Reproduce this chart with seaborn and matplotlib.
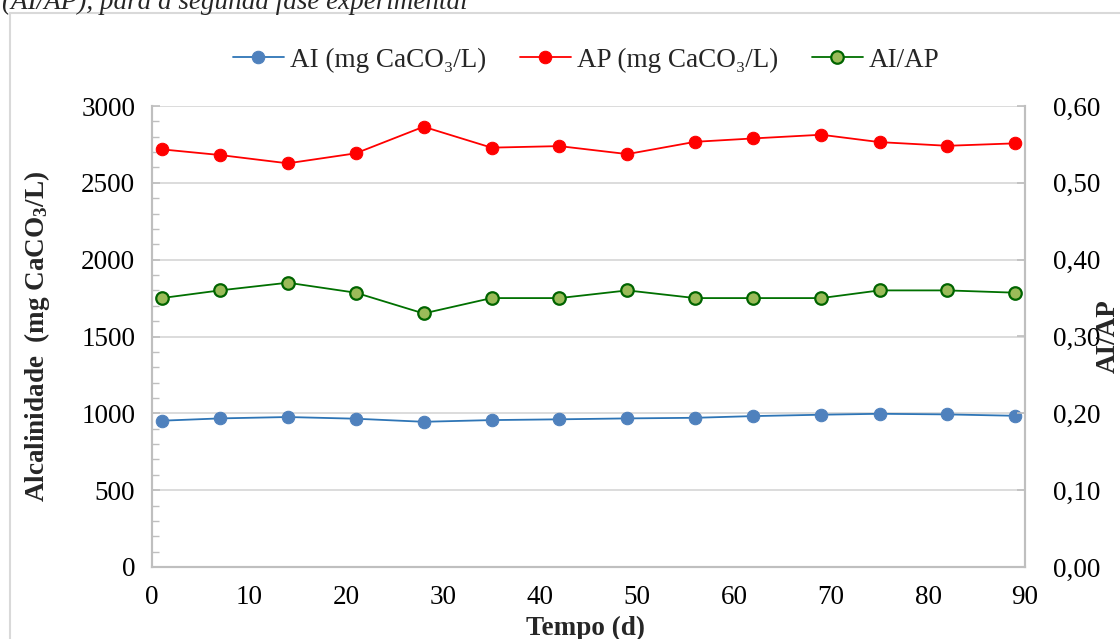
import matplotlib
matplotlib.use("Agg")
import matplotlib.pyplot as plt
import matplotlib.patches as mpatches
from matplotlib.ticker import MultipleLocator, FuncFormatter
import seaborn as sns
import pandas as pd

# Sampling days (second experimental phase)
dias = [1, 7, 14, 21, 28, 35, 42, 49, 56, 62, 69, 75, 82, 89]
# Intermediate alkalinity (mg CaCO3/L)
ai = [952, 967, 976, 965, 945, 956, 961, 967, 971, 982, 991, 997, 993, 984]
# Partial alkalinity (mg CaCO3/L)
ap = [2718, 2681, 2627, 2692, 2865, 2729, 2739, 2687, 2767, 2789, 2813, 2765, 2741, 2757]
# AI/AP ratio
ai_ap = [0.35, 0.36, 0.37, 0.357, 0.33, 0.35, 0.35, 0.36, 0.35, 0.35, 0.35, 0.36, 0.36, 0.357]

df = pd.DataFrame({"dia": dias, "AI": ai, "AP": ap, "AI/AP": ai_ap})

sns.set_theme(style="white")
plt.rcParams["font.family"] = ["Liberation Serif", "DejaVu Serif"]
plt.rcParams["mathtext.fontset"] = "custom"
plt.rcParams["mathtext.rm"] = "Liberation Serif"
plt.rcParams["mathtext.bf"] = "Liberation Serif:bold"
plt.rcParams["mathtext.default"] = "regular"

W, H = 1120, 639
fig = plt.figure(figsize=(W / 100, H / 100), dpi=100)
ax = fig.add_axes([152 / W, 1 - 567 / H, (1025 - 152) / W, (567 - 106) / H])
ax2 = ax.twinx()

grid_c = "#d9d9d9"
spine_c = "#bfbfbf"
fs = 19.5

sns.lineplot(data=df, x="dia", y="AI", ax=ax, color="#2e75b6", lw=1.3,
             marker="o", markersize=9, markerfacecolor="#4f81bd",
             markeredgecolor="#4f81bd", label="AI (mg CaCO\u2083/L)", legend=False)
sns.lineplot(data=df, x="dia", y="AP", ax=ax, color="#ff0000", lw=1.3,
             marker="o", markersize=9, markerfacecolor="#ff0000",
             markeredgecolor="#ff0000", label="AP (mg CaCO\u2083/L)", legend=False)
sns.lineplot(data=df, x="dia", y="AI/AP", ax=ax2, color="#007000", lw=1.3,
             marker="o", markersize=9, markerfacecolor="#9bbb59",
             markeredgecolor="#006400", markeredgewidth=1.6,
             label="AI/AP", legend=False)

ax.set_xlim(0, 90)
ax.set_ylim(0, 3000)
ax2.set_ylim(0, 0.6)

ax.xaxis.set_major_locator(MultipleLocator(10))
ax.xaxis.set_minor_locator(MultipleLocator(5))
ax.yaxis.set_major_locator(MultipleLocator(500))
ax.yaxis.set_minor_locator(MultipleLocator(100))
ax2.yaxis.set_major_locator(MultipleLocator(0.1))
ax2.yaxis.set_major_formatter(FuncFormatter(lambda v, p: f"{v:.2f}".replace(".", ",")))

ax.grid(axis="y", which="major", color=grid_c, lw=1.3)
ax.set_axisbelow(True)

for a in (ax, ax2):
    for side in ("left", "right", "bottom"):
        a.spines[side].set_visible(True)
        a.spines[side].set_color(spine_c)
        a.spines[side].set_linewidth(1.5)
    a.spines["top"].set_visible(False)

ax.tick_params(axis="both", which="both", direction="in", color=spine_c,
               labelsize=fs, labelcolor="black")
ax.tick_params(axis="x", which="both", length=6, width=1.2, pad=13)
ax.tick_params(axis="y", which="major", length=6, width=1.2, pad=12)
ax.tick_params(axis="y", which="minor", length=5, width=1.0)
ax2.tick_params(axis="y", which="major", direction="in", length=6, width=1.2,
                color=spine_c, labelsize=fs, labelcolor="black", pad=20)
ax2.grid(False)

ax.set_xlabel("Tempo (d)", fontsize=fs, fontweight="bold")
ax.set_ylabel("Alcalinidade  (mg CaCO$_3$/L)", fontsize=fs, fontweight="bold")
ax2.set_ylabel("AI/AP", fontsize=fs, fontweight="bold")
ax.xaxis.set_label_coords((586 - 152) / (1025 - 152), -(616 - 567) / (567 - 106))
ax.yaxis.set_label_coords(-(152 - 52) / (1025 - 152), 0.5)
ax2.yaxis.set_label_coords(1 + (1096 - 1025) / (1025 - 152), 0.5)

h1, l1 = ax.get_legend_handles_labels()
h2, l2 = ax2.get_legend_handles_labels()
fig.legend(h1 + h2, l1 + l2, loc="center", bbox_to_anchor=(586 / W, 1 - 60 / H),
           ncol=3, frameon=False, fontsize=fs, handlelength=1.9,
           columnspacing=1.25, handletextpad=0.2)

# chart frame and the caption line above it
fig.patches.append(mpatches.Rectangle((10 / W, -0.05), 1.2, 1 - 13 / H + 0.05,
                                      transform=fig.transFigure, fill=False,
                                      edgecolor="#d9d9d9", lw=1.5))
fig.text(2 / W, 1 - 9 / H, "(AI/AP), para a segunda fase experimental",
         fontsize=fs, style="italic", va="baseline", ha="left")

fig.savefig("out.png", dpi=100)
